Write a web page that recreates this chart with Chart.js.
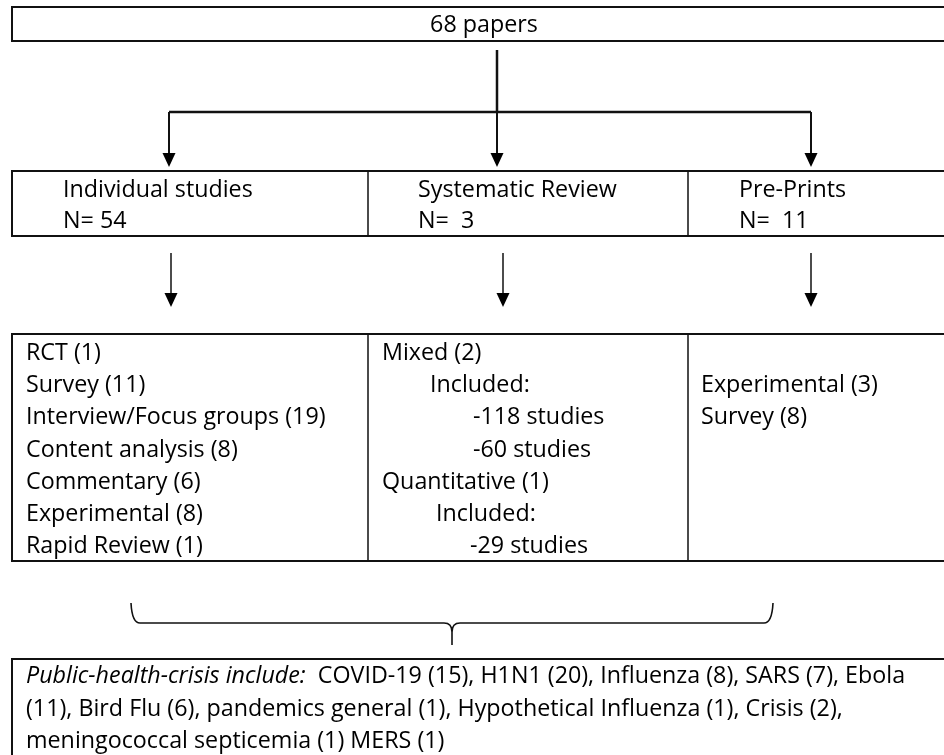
<!DOCTYPE html>
<html>
<head>
<meta charset="utf-8">
<script src="https://cdn.jsdelivr.net/npm/chart.js@4.4.1/dist/chart.umd.min.js"></script>
<style>
    html, body { margin: 0; padding: 0; background: #fff; }
    #wrap { width: 944px; height: 755px; position: relative; }
</style>
</head>
<body>
<div id="wrap"><canvas id="flow"></canvas></div>
<script>
// Flow data
const totalPapers = 68;
const studyTypes = ['Individual studies', 'Systematic Review', 'Pre-Prints'];
const studyCounts = [54, 3, 11];
const individualDesigns = ['RCT', 'Survey', 'Interview/Focus groups', 'Content analysis', 'Commentary', 'Experimental', 'Rapid Review'];
const individualCounts = [1, 11, 19, 8, 6, 8, 1];
const reviewTypes = ['Mixed', 'Quantitative'];
const reviewCounts = [2, 1];
const reviewIncluded = [[118, 60], [29]];
const preprintDesigns = ['Experimental', 'Survey'];
const preprintCounts = [3, 8];
const crisisNames = ['COVID-19', 'H1N1', 'Influenza', 'SARS', 'Ebola', 'Bird Flu', 'pandemics general',
    'Hypothetical Influenza', 'Crisis', 'meningococcal septicemia', 'MERS'];
const crisisCounts = [15, 20, 8, 7, 11, 6, 1, 1, 2, 1, 1];

// Layout (chart units == pixels)
const layout = {
    left: 12,
    right: 952,
    topBox: [7, 41],
    midBox: [171, 236],
    tableBox: [334, 561],
    footBox: [659, 770],
    dividers: [368, 688],
    branchY: 112,
    stemTop: 50,
    arrowsTop: [169, 497, 811],
    arrowsMid: [171, 503, 811],
    midArrow: [253, 307],
    headLabelX: [63, 418, 739],
    headBaselines: [197, 228],
    cellX: [26, 382, 701],
    rowTop: 360,
    rowStep: 32.2,
    footX: 26,
    footBaselines: [683, 716, 748],
    braceX: [131, 452, 773],
    braceY: [603, 623, 645]
};

const FONT = '"Open Sans", "Liberation Sans", sans-serif';
const FONT_PX = 24;
const SCALE_X = 0.97;

const FlowChart = (() => {
    const setFont = (ctx, italic) => {
        ctx.font = (italic ? 'italic ' : '') + FONT_PX + 'px ' + FONT;
    };

    const measure = (ctx, str, italic) => {
        setFont(ctx, italic);
        return ctx.measureText(str).width * SCALE_X;
    };

    const drawText = (ctx, str, x, y, italic) => {
        ctx.save();
        setFont(ctx, italic);
        ctx.textBaseline = 'alphabetic';
        ctx.fillStyle = '#000';
        ctx.translate(x, y);
        ctx.scale(SCALE_X, 1);
        ctx.fillText(str, 0, 0);
        ctx.restore();
    };

    const arrow = (ctx, x, y0, y1, width) => {
        const head = 14;
        ctx.lineWidth = width;
        ctx.beginPath();
        ctx.moveTo(x, y0);
        ctx.lineTo(x, y1 - head + 1);
        ctx.stroke();
        ctx.beginPath();
        ctx.moveTo(x - 6.5, y1 - head);
        ctx.lineTo(x + 6.5, y1 - head);
        ctx.lineTo(x, y1);
        ctx.closePath();
        ctx.fill();
    };

    const box = (ctx, x0, y0, x1, y1) => {
        ctx.lineWidth = 2;
        ctx.strokeRect(x0, y0, x1 - x0, y1 - y0);
    };

    const wrapWords = (ctx, words, firstWidth, width) => {
        const lines = [];
        let current = '';
        let limit = firstWidth;
        words.forEach(word => {
            const trial = current ? current + ' ' + word : word;
            if (current && measure(ctx, trial, false) > limit) {
                lines.push(current);
                current = word;
                limit = width;
            } else {
                current = trial;
            }
        });
        if (current) lines.push(current);
        return lines;
    };

    const plugin = {
        id: 'flowDiagram',
        afterDraw(chart) {
            const ctx = chart.ctx;
            const sx = chart.scales.x;
            const sy = chart.scales.y;
            const px = v => sx.getPixelForValue(v);
            const py = v => sy.getPixelForValue(v);
            const L = layout;

            ctx.save();
            ctx.strokeStyle = '#111';
            ctx.fillStyle = '#000';

            // Top box
            box(ctx, px(L.left), py(L.topBox[0]), px(L.right), py(L.topBox[1]));
            const title = totalPapers + ' papers';
            const tw = measure(ctx, title, false);
            drawText(ctx, title, px(484) - tw / 2, py(32));

            // Stem + branch
            ctx.lineWidth = 2.5;
            ctx.beginPath();
            ctx.moveTo(px(L.arrowsTop[1]), py(L.stemTop));
            ctx.lineTo(px(L.arrowsTop[1]), py(L.branchY));
            ctx.moveTo(px(L.arrowsTop[0]), py(L.branchY));
            ctx.lineTo(px(L.arrowsTop[L.arrowsTop.length - 1]), py(L.branchY));
            ctx.stroke();
            L.arrowsTop.forEach(x => arrow(ctx, px(x), py(L.branchY), py(L.midBox[0] - 4), 2));

            // Study type boxes
            box(ctx, px(L.left), py(L.midBox[0]), px(L.right), py(L.midBox[1]));
            box(ctx, px(L.left), py(L.tableBox[0]), px(L.right), py(L.tableBox[1]));
            ctx.lineWidth = 1.5;
            L.dividers.forEach(d => {
                ctx.beginPath();
                ctx.moveTo(px(d), py(L.midBox[0]));
                ctx.lineTo(px(d), py(L.midBox[1]));
                ctx.moveTo(px(d), py(L.tableBox[0]));
                ctx.lineTo(px(d), py(L.tableBox[1]));
                ctx.stroke();
            });
            studyTypes.forEach((name, i) => {
                drawText(ctx, name, px(L.headLabelX[i]), py(L.headBaselines[0]));
                const gap = studyCounts[i] < 50 ? '  ' : ' ';
                drawText(ctx, 'N=' + gap + studyCounts[i], px(L.headLabelX[i]), py(L.headBaselines[1]));
            });

            // Second row arrows
            L.arrowsMid.forEach(x => arrow(ctx, px(x), py(L.midArrow[0]), py(L.midArrow[1]), 1.5));

            const rowY = r => py(L.rowTop + r * L.rowStep);

            // Individual studies column
            individualDesigns.forEach((d, i) => {
                drawText(ctx, d + ' (' + individualCounts[i] + ')', px(L.cellX[0]), rowY(i));
            });

            // Systematic review column
            const incIndent = [48, 54];
            const studyIndent = [91, 88];
            let r = 0;
            reviewTypes.forEach((t, i) => {
                drawText(ctx, t + ' (' + reviewCounts[i] + ')', px(L.cellX[1]), rowY(r++));
                drawText(ctx, 'Included:', px(L.cellX[1] + incIndent[i]), rowY(r++));
                reviewIncluded[i].forEach(n => {
                    drawText(ctx, '-' + n + ' studies', px(L.cellX[1] + studyIndent[i]), rowY(r++));
                });
            });

            // Pre-prints column
            preprintDesigns.forEach((d, i) => {
                drawText(ctx, d + ' (' + preprintCounts[i] + ')', px(L.cellX[2]), rowY(i + 1));
            });

            // Brace
            const [bl, bc, br] = L.braceX;
            const [bt, bm, bb] = L.braceY;
            ctx.lineWidth = 1.6;
            ctx.beginPath();
            ctx.moveTo(px(bl), py(bt));
            ctx.quadraticCurveTo(px(bl + 1), py(bm), px(bl + 9), py(bm));
            ctx.lineTo(px(bc - 8), py(bm));
            ctx.quadraticCurveTo(px(bc), py(bm), px(bc), py(bm + 9));
            ctx.lineTo(px(bc), py(bb));
            ctx.moveTo(px(bc), py(bm + 9));
            ctx.quadraticCurveTo(px(bc), py(bm), px(bc + 8), py(bm));
            ctx.lineTo(px(br - 9), py(bm));
            ctx.quadraticCurveTo(px(br - 1), py(bm), px(br), py(bt));
            ctx.stroke();

            // Footer box
            box(ctx, px(L.left), py(L.footBox[0]), px(L.right), py(L.footBox[1]));
            const lead = 'Public-health-crisis include:';
            const leadW = measure(ctx, lead + '  ', true);
            drawText(ctx, lead, px(L.footX), py(L.footBaselines[0]), true);
            const items = crisisNames.map((n, i) => n + ' (' + crisisCounts[i] + ')');
            const body = items.slice(0, -1).join(', ') + ' ' + items[items.length - 1];
            const maxW = px(925) - px(L.footX);
            const lines = wrapWords(ctx, body.split(' '), maxW - leadW, maxW);
            lines.forEach((line, i) => {
                const x = i === 0 ? px(L.footX) + leadW : px(L.footX);
                drawText(ctx, line, x, py(L.footBaselines[i]));
            });

            ctx.restore();
        }
    };

    const init = (canvasId) => {
        const ctx = document.getElementById(canvasId).getContext('2d');
        return new Chart(ctx, {
            type: 'scatter',
            data: { datasets: [{ data: [] }] },
            options: {
                responsive: true,
                maintainAspectRatio: false,
                animation: false,
                layout: { padding: 0 },
                plugins: {
                    legend: { display: false },
                    tooltip: { enabled: false }
                },
                scales: {
                    x: { type: 'linear', min: 0, max: 944, display: false },
                    y: { type: 'linear', min: 0, max: 755, reverse: true, display: false }
                }
            },
            plugins: [plugin]
        });
    };

    return { init };
})();

FlowChart.init('flow');
</script>
</body>
</html>
